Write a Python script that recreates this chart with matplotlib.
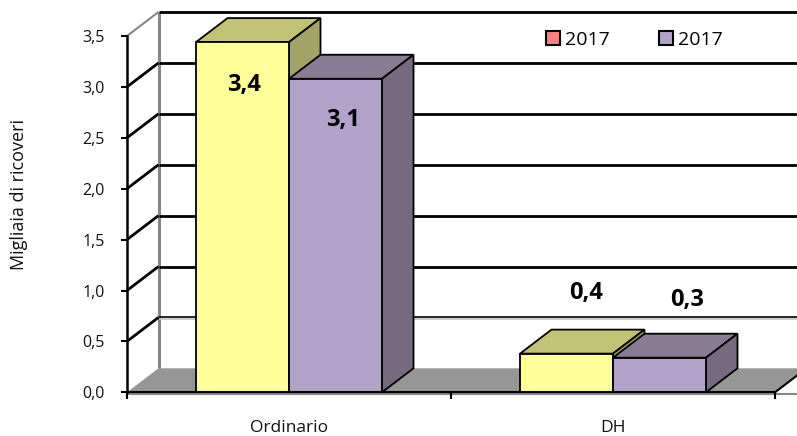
import matplotlib
matplotlib.use('Agg')
import matplotlib.pyplot as plt
from matplotlib.patches import Polygon, Patch

plt.rcParams['font.family'] = ['Open Sans', 'DejaVu Sans']

# Daten
categories = ['Ordinario', 'DH']
series_names = ['2017', '2017']
values_a = [3.44, 0.38]
values_b = [3.08, 0.34]
value_labels_a = ['3,4', '0,4']
value_labels_b = ['3,1', '0,3']
y_ticks = [0.0, 0.5, 1.0, 1.5, 2.0, 2.5, 3.0, 3.5]
y_tick_labels = ['0,0', '0,5', '1,0', '1,5', '2,0', '2,5', '3,0', '3,5']

W, H = 797, 436
fig = plt.figure(figsize=(W / 100, H / 100), dpi=100)
# Vorderkante des 3D-Rahmens: x 127..775, y 392..36 in Pixeln
ax = fig.add_axes([127 / W, 1 - 392.3 / H, 648 / W, 356.3 / H])
ax.set_xlim(0, 2)
ax.set_ylim(0, 3.5)
ax.patch.set_alpha(0)

px_x = 2 / 648
px_y = 3.5 / 356.3
DX = 31.5 * px_x
DY = 24 * px_y
X_END = 2 + DX
bar_w = 93 * px_x


def poly(pts, fc, ec='black', lw=1.3, z=3):
    ax.add_patch(Polygon(pts, closed=True, facecolor=fc, edgecolor=ec, linewidth=lw,
                         zorder=z, clip_on=False, joinstyle='miter'))


def line(xs, ys, color='black', lw=1.5, z=2):
    ax.plot(xs, ys, color=color, lw=lw, zorder=z, clip_on=False, solid_capstyle='butt')


# Boden und Rueckwand
poly([(0, 0), (DX, DY), (X_END, DY), (2, 0)], '#969696', ec='none', lw=0, z=1)
line([DX, DX], [DY, 3.5 + DY], color='#868686', lw=2.2, z=1.5)
line([0, DX], [3.5, 3.5 + DY], color='#868686', lw=1.5, z=1.5)
line([0, X_END], [-0.012, -0.012], color='#868686', lw=1.5, z=1.5)

# Gitterlinien
for t in y_ticks[1:]:
    thick = 1.2 if t == 0.5 else 2.0
    line([DX, X_END], [t + DY, t + DY], lw=thick)
    if t < 3.5:
        line([0, DX], [t, t + DY], lw=2.0)
line([DX, X_END], [0.5 + DY - 0.012, 0.5 + DY - 0.012], color='#c4c4c4', lw=1.2, z=1.8)
line([2, X_END], [0, DY], lw=1.5, z=1.8)


def bar3d(x, h, front, top, side):
    poly([(x, h), (x + DX, h + DY), (x + bar_w + DX, h + DY), (x + bar_w, h)], top)
    poly([(x + bar_w, 0), (x + bar_w + DX, DY), (x + bar_w + DX, h + DY), (x + bar_w, h)], side)
    poly([(x, 0), (x + bar_w, 0), (x + bar_w, h), (x, h)], front)


offset_a = [(2, 0), (20, 0)]
offset_b = [(8, 0), (28, 0)]
label_y_a = [85, 293]
label_y_b = [120, 300]

for i, cat in enumerate(categories):
    c = i + 0.5
    bar3d(c - bar_w, values_a[i], '#FFFF99', '#C2C274', '#A3A366')
    bar3d(c, values_b[i], '#B3A2C7', '#8A7B94', '#776A80')
    for txt, x0, off, ypx in [(value_labels_a[i], c - bar_w / 2, offset_a[i], label_y_a[i]),
                              (value_labels_b[i], c + bar_w / 2, offset_b[i], label_y_b[i])]:
        ax.text(x0 + off[0] * px_x, (392.3 - ypx) * px_y, txt, ha='center', va='center',
                fontsize=17, fontweight='bold', color='black', zorder=5)

# Achsen
for s in ['top', 'right']:
    ax.spines[s].set_visible(False)
ax.spines['left'].set_linewidth(1.8)
ax.spines['bottom'].set_linewidth(1.5)
ax.spines['left'].set_zorder(4)
ax.spines['bottom'].set_zorder(4)
ax.set_yticks(y_ticks)
ax.set_yticklabels(y_tick_labels, fontsize=11.5, color='#111111', va='center_baseline')
ax.tick_params(axis='y', length=4, width=1.5, pad=12)
ax.set_xticks([0, 1, 2])
ax.set_xticklabels([])
ax.tick_params(axis='x', length=5, width=1.5)
ax.set_xticks([0.5, 1.5], minor=True)
ax.set_xticklabels(categories, minor=True, fontsize=12.5, color='#111111')
ax.tick_params(axis='x', which='minor', length=0, pad=20)
fig.text(19 / W, 1 - 195 / H, 'Migliaia di ricoveri', rotation=90, ha='center', va='center',
         fontsize=13, color='#111111')

# Legende
handles = [Patch(facecolor='#FF8080', edgecolor='black', linewidth=1.5),
           Patch(facecolor='#B3A2C7', edgecolor='black', linewidth=1.5)]
fig.legend(handles, series_names, ncol=2, frameon=False, fontsize=14,
           loc='center left', bbox_to_anchor=(538 / W, 1 - 40 / H), borderaxespad=0,
           handlelength=0.72, handleheight=0.72, handletextpad=0.28, columnspacing=2.5)

fig.savefig('out.png', dpi=100)
